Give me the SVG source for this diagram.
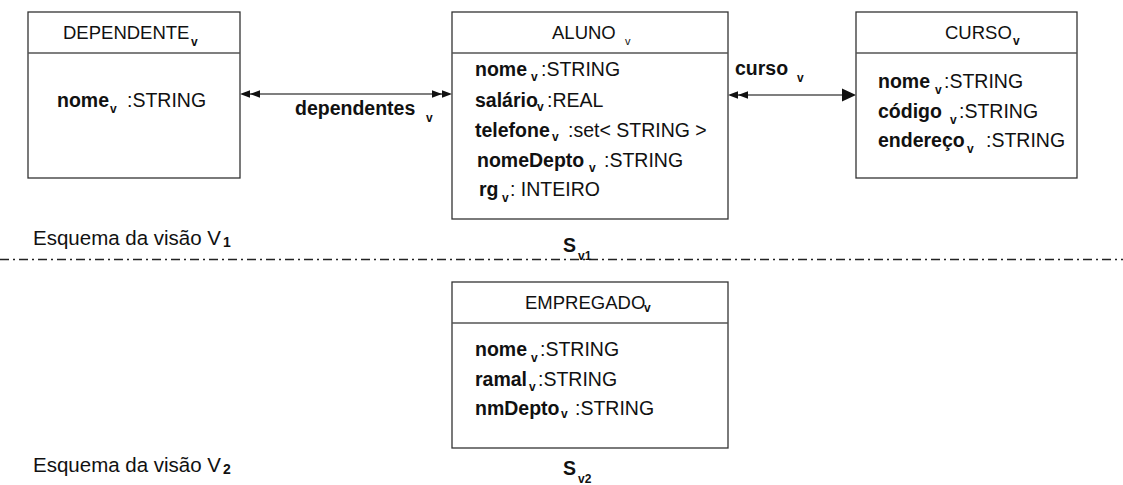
<svg xmlns="http://www.w3.org/2000/svg" width="1123" height="485" viewBox="0 0 1123 485">
  <style>
    .box { fill: #fff; stroke: #333; stroke-width: 1.3; }
    .div { stroke: #555; stroke-width: 1.3; }
    .t { font-family: "Liberation Sans", Arial, Helvetica, sans-serif; font-size: 19.5px; fill: #111; }
    .h { font-size: 18.5px; }
    .b { font-weight: bold; }
    .s { font-size: 12px; font-weight: bold; }
    .sl { font-size: 11px; font-weight: normal; }
    .lbl { font-size: 20.5px; }
    .conn { stroke: #555; stroke-width: 1.5; fill: none; }
    .head { fill: #111; }
    .sep { stroke: #222; stroke-width: 1.3; stroke-dasharray: 9 4 2 4; }
  </style>
  <defs>
    <!-- double arrowhead, tip at origin, pointing +x -->
    <path id="dbl" d="M0,0 L-10,-3.8 L-10,3.8 Z M-10,0 L-20,-3.8 L-20,3.8 Z"/>
    <!-- single filled arrowhead, tip at origin, pointing +x -->
    <path id="sgl" d="M0,0 L-14,-6.5 L-14,6.5 Z"/>
  </defs>

  <!-- connectors -->
  <g id="connectors">
    <line class="conn" x1="244" y1="94" x2="448" y2="94"/>
    <use href="#dbl" class="head" transform="translate(240,94) scale(-1,1)"/>
    <use href="#dbl" class="head" transform="translate(452,94)"/>
    <text class="t b" x="295" y="115">dependentes<tspan class="s" x="426" dy="7">v</tspan></text>

    <line class="conn" x1="732" y1="95" x2="845" y2="95"/>
    <use href="#dbl" class="head" transform="translate(728,95) scale(-1,1)"/>
    <use href="#sgl" class="head" transform="translate(856,95)"/>
    <text class="t b" x="735" y="75">curso<tspan class="s" x="797" dy="7">v</tspan></text>
  </g>

  <!-- DEPENDENTE -->
  <g id="dependente">
    <rect class="box" x="28" y="12" width="212" height="166"/>
    <line class="div" x1="28" y1="53" x2="240" y2="53"/>
    <text class="t h" x="63" y="39">DEPENDENTE<tspan class="s" x="191" dy="7">v</tspan></text>
    <text class="t" x="57" y="107"><tspan class="b">nome</tspan><tspan class="s" x="110" dy="6">v</tspan><tspan x="127" dy="-6">:STRING</tspan></text>
  </g>

  <!-- ALUNO -->
  <g id="aluno">
    <rect class="box" x="452" y="12" width="276" height="207"/>
    <line class="div" x1="452" y1="53" x2="728" y2="53"/>
    <text class="t h" x="552" y="39">ALUNO<tspan class="sl" x="625" dy="6">v</tspan></text>
    <text class="t" x="475" y="76"><tspan class="b">nome</tspan><tspan class="s" x="531" dy="5">v</tspan><tspan x="541" dy="-5">:STRING</tspan></text>
    <text class="t" x="475" y="107"><tspan class="b">salário</tspan><tspan class="s" x="537" dy="4">v</tspan><tspan x="547" dy="-4">:REAL</tspan></text>
    <text class="t" x="475" y="137"><tspan class="b">telefone</tspan><tspan class="s" x="552" dy="4">v</tspan><tspan x="568" dy="-4">:set&lt; STRING &gt;</tspan></text>
    <text class="t" x="477" y="167"><tspan class="b">nomeDepto</tspan><tspan class="s" x="589" dy="5">v</tspan><tspan x="604" dy="-5">:STRING</tspan></text>
    <text class="t" x="479" y="196"><tspan class="b">rg</tspan><tspan class="s" x="502" dy="6">v</tspan><tspan x="510" dy="-6">: INTEIRO</tspan></text>
  </g>

  <!-- CURSO -->
  <g id="curso">
    <rect class="box" x="856" y="12" width="221" height="166"/>
    <line class="div" x1="856" y1="53" x2="1077" y2="53"/>
    <text class="t h" x="945" y="39">CURSO<tspan class="s" x="1013" dy="6">v</tspan></text>
    <text class="t" x="878" y="88"><tspan class="b">nome</tspan><tspan class="s" x="935" dy="6">v</tspan><tspan x="944" dy="-6">:STRING</tspan></text>
    <text class="t" x="878" y="118"><tspan class="b">código</tspan><tspan class="s" x="950" dy="6">v</tspan><tspan x="959" dy="-6">:STRING</tspan></text>
    <text class="t" x="878" y="147"><tspan class="b">endereço</tspan><tspan class="s" x="967" dy="6">v</tspan><tspan x="986" dy="-6">:STRING</tspan></text>
  </g>

  <!-- view separator and captions -->
  <line class="sep" x1="0" y1="259.5" x2="1123" y2="259.5"/>
  <text class="t lbl" x="33" y="245">Esquema da visão V<tspan class="b" font-size="14" x="223" dy="2">1</tspan></text>
  <text class="t b" font-size="19" x="563" y="252">S<tspan class="s" x="578" dy="8">v1</tspan></text>

  <!-- EMPREGADO -->
  <g id="empregado">
    <rect class="box" x="452" y="282" width="276" height="166"/>
    <line class="div" x1="452" y1="323" x2="728" y2="323"/>
    <text class="t h" x="525" y="309">EMPREGADO<tspan class="s" x="644" dy="3">v</tspan></text>
    <text class="t" x="475" y="356"><tspan class="b">nome</tspan><tspan class="s" x="531" dy="6">v</tspan><tspan x="540" dy="-6">:STRING</tspan></text>
    <text class="t" x="475" y="386"><tspan class="b">ramal</tspan><tspan class="s" x="529" dy="5">v</tspan><tspan x="538" dy="-5">:STRING</tspan></text>
    <text class="t" x="475" y="415"><tspan class="b">nmDepto</tspan><tspan class="s" x="561" dy="3">v</tspan><tspan x="575" dy="-3">:STRING</tspan></text>
  </g>

  <text class="t lbl" x="33" y="472">Esquema da visão V<tspan class="b" font-size="14" x="223" dy="2">2</tspan></text>
  <text class="t b" font-size="19" x="563" y="475">S<tspan class="s" x="578" dy="8">v2</tspan></text>
</svg>
